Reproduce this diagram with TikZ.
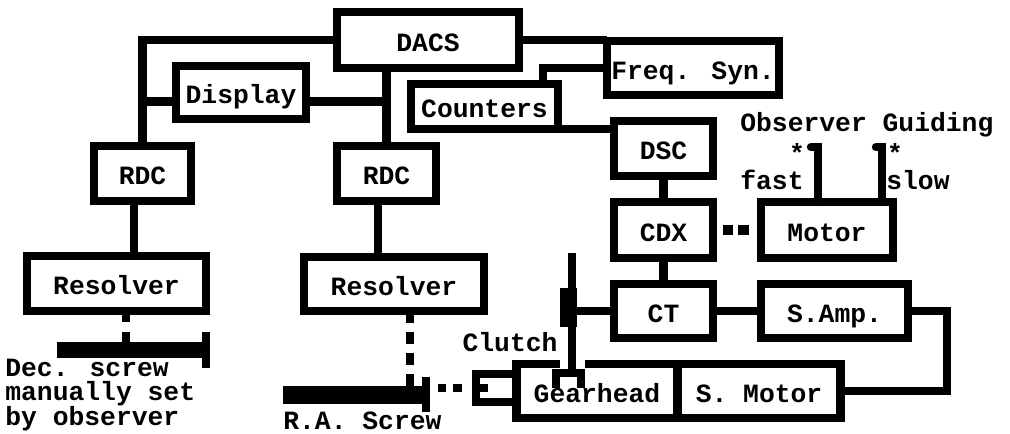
\documentclass[tikz,border=0pt]{standalone}
\usepackage{fontspec}
\newfontfamily\plotfont{Liberation Mono}
\usetikzlibrary{calc}
\newdimen\pxu
\pxu=0.569pt

\begin{document}
\begin{tikzpicture}[x=0.02cm,y=-0.02cm,
  box/.style 2 args={draw,line width=4.9pt,outer sep=0pt,inner sep=0pt,
    minimum width=#1\pxu,minimum height=#2\pxu,text height=13pt,text depth=0pt,
    font=\plotfont\bfseries\fontsize{15}{15}\selectfont},
  lbl/.style={inner sep=0pt,font=\plotfont\bfseries\fontsize{15}{14.2}\selectfont},
  wire/.style={line width=4.8pt}]
\useasboundingbox (0,0) rectangle (1010,433);
% boxes
\node[box={182}{56}] (dacs) at (428,40) {DACS};
\node[box={172}{54}] (freq) at (693,68) {Freq. Syn.};
\node[box={147}{45}] (counters) at (484.5,106.5) {Counters};
\node[box={130}{53}] (display) at (241,92.5) {Display};
\node[box={97}{55}] (rdcdec) at (142.5,173.5) {RDC};
\node[box={99}{55}] (rdcra) at (386.5,173.5) {RDC};
\node[box={179}{55}] (resdec) at (116.5,283.5) {Resolver};
\node[box={180}{54}] (resra) at (394,284) {Resolver};
\node[box={99}{55}] (dsc) at (663.5,148.5) {DSC};
\node[box={99}{56}] (cdx) at (663.5,230) {CDX};
\node[box={99}{54}] (ct) at (663.5,311) {CT};
\node[box={132}{56}] (motor) at (827,230) {Motor};
\node[box={147}{54}] (samp) at (834.5,311) {S.Amp.};
\node[box={161.5}{54}] (gear) at (597,391) {Gearhead};
\node[box={163.5}{54}] (smotor) at (759,391) {S. Motor};
\node[box={40}{28}] (coupling) at (496,388) {};
% labels
\node[lbl,anchor=west] (guiding) at (740,125) {Observer Guiding};
\node[lbl,anchor=west] (fast) at (740,180) {fast};
\node[lbl,anchor=west] (slow) at (886,180) {slow};
\node[lbl] (fastmark) at (797,153) {*};
\node[lbl] (slowmark) at (895,153) {*};
\node[lbl] (clutch) at (510,342) {Clutch};
\node[lbl,anchor=west,align=left] (decnote) at (5,395) {Dec. screw\\manually set\\by observer};
\node[lbl,anchor=west] (ranote) at (283,421) {R.A. Screw};
% connections
\draw[wire] (dacs.west) -| (rdcdec.north);
\draw[wire] (dacs.south -| rdcra.north) -- (rdcra.north);
\draw[wire] (rdcdec.north) |- ($(display.west)+(0,9)$);
\draw[wire] (rdcra.north) |- ($(display.east)+(0,9)$);
\draw[wire] (dacs.east) -- (dacs.east -| freq.west);
\draw[wire] (freq.west) -| ($(counters.north east)+(-15,0)$);
\draw[wire] (counters.south east) -- (counters.south east -| dsc.west);
\draw[wire] ($(rdcdec.south)+(-8.5,0)$) |- (resdec.north);
\draw[wire] ($(rdcra.south)+(-8.5,0)$) |- (resra.north);
\draw[wire] (dsc) -- (cdx);
\draw[wire] (cdx) -- (ct);
\draw[wire] (ct) -- (samp);
\draw[wire] (samp.east) -- ++(39,0) |- (smotor.east);
\draw[wire,line width=5.7pt,dash pattern=on 5.95pt off 2.83pt,
  shorten <=5.7pt,shorten >=6.8pt] (cdx.east) -- (motor.west);
% guiding buttons
\coordinate (fastsw) at (818,147);
\coordinate (slowsw) at (882,147);
\draw[wire,line cap=round] (motor.north -| fastsw) -- (fastsw) -- ++(-7,0);
\draw[wire,line cap=round] (motor.north -| slowsw) -- (slowsw) -- ++(-6,0);
% Dec. screw
\fill (57,342) rectangle (206,358);
\fill (202,332) rectangle (210,368);
\coordinate (decshaft) at (126,342);
\draw[wire,dash pattern=on 6pt off 5.7pt] (resdec.south -| decshaft) -- (decshaft);
% R.A. screw
\fill (283,386) rectangle (424,404);
\fill (422,377) rectangle (430,412);
\coordinate (rashaft) at (410,386);
\coordinate (ratick) at (426,388);
\draw[wire,dash pattern=on 6.8pt off 5.1pt] (resra.south -| rashaft) -- (rashaft);
\draw[wire,line width=5.1pt,dash pattern=on 4.8pt off 4pt,
  shorten <=6.8pt,shorten >=8pt] (ratick) -- (coupling.west);
\fill ($(coupling.west)+(0,-4)$) rectangle ++(12,8);
% clutch
\coordinate (shaft) at (572,253);
\fill[white] (560,358) rectangle (585,369.5);
\draw[wire,line join=miter] (556,388) -- (556,373) -- (581,373) -- (581,388);
\draw[wire] (shaft) -- (shaft |- 0,373);
\fill (560,288) rectangle (577,327);
\draw[wire] (ct.west) -- (ct.west -| shaft);
\end{tikzpicture}
\end{document}
